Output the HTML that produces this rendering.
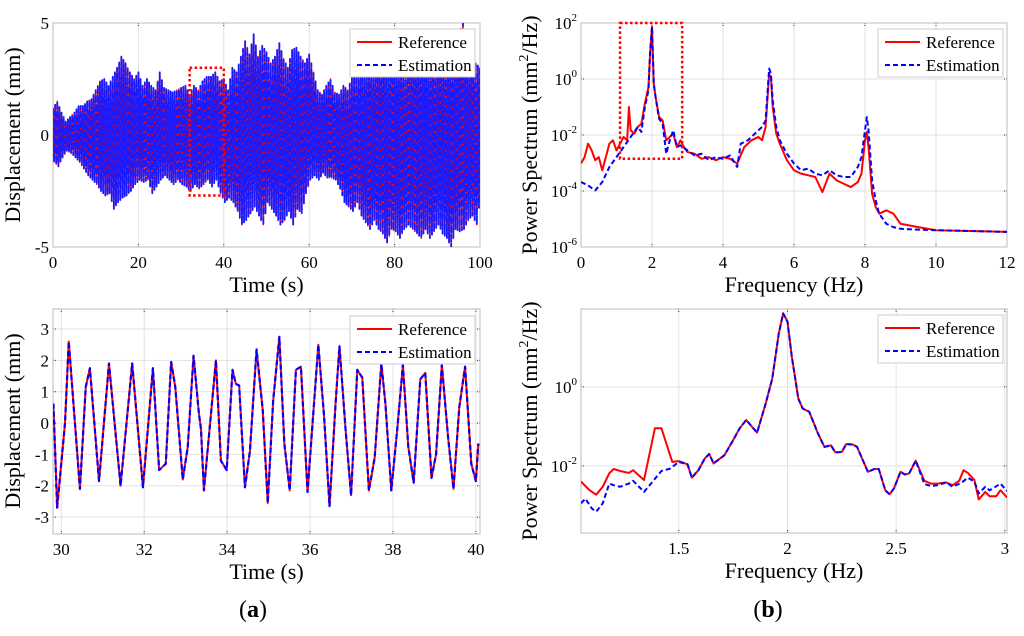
<!DOCTYPE html>
<html><head><meta charset="utf-8"><style>
html,body{margin:0;padding:0;background:#fff;}
svg{display:block;font-family:"Liberation Serif",serif;}
</style></head><body>
<svg id="fig" width="1024" height="636" viewBox="0 0 1024 636" xmlns="http://www.w3.org/2000/svg"></svg>
<script>
// ---------- Panel A data (top-left): per-second upper/lower envelope of displacement ----------
const aUpper=[1.2,1.5,1.0,0.6,0.8,1.0,1.3,1.3,1.5,1.6,2.0,2.4,2.5,2.2,2.6,3.0,3.5,3.2,2.8,2.5,2.8,2.2,2.5,2.2,2.0,2.8,2.1,2.0,1.9,2.0,2.1,2.2,1.8,2.2,2.0,2.4,2.6,2.6,2.8,2.4,2.5,2.0,3.0,2.8,3.5,4.2,3.6,4.5,3.5,4.0,3.7,3.2,3.5,4.1,3.4,3.0,3.8,3.9,3.5,3.2,3.6,2.8,2.0,1.8,2.2,2.5,1.9,1.8,2.2,2.0,2.6,2.6,3.0,3.0,3.2,3.0,3.2,3.6,3.0,3.5,3.3,3.4,3.0,3.2,3.3,3.5,3.4,3.6,3.3,3.2,3.5,3.4,3.5,3.8,3.4,4.5,5.0,3.3,3.5,3.2,3.0,4.2];
const aLower=[-1.2,-1.4,-1.0,-0.7,-0.8,-1.0,-1.2,-1.5,-1.8,-2.0,-2.2,-2.5,-2.7,-2.6,-3.3,-3.0,-2.8,-2.7,-2.5,-2.2,-2.0,-2.1,-2.0,-2.6,-2.3,-2.0,-1.8,-2.0,-2.2,-2.0,-2.2,-2.3,-2.5,-2.2,-2.4,-2.2,-2.0,-2.3,-2.0,-2.6,-3.0,-2.8,-3.0,-3.4,-4.0,-3.8,-3.5,-3.2,-3.6,-4.0,-3.0,-3.3,-3.6,-4.0,-3.8,-3.4,-4.0,-3.3,-3.5,-2.6,-2.0,-1.8,-2.0,-1.7,-1.9,-1.9,-2.0,-2.4,-3.0,-3.2,-3.4,-3.0,-3.6,-3.9,-4.2,-3.8,-4.2,-4.4,-4.8,-4.2,-4.3,-4.6,-4.2,-4.0,-4.2,-4.4,-4.6,-4.2,-4.6,-4.3,-4.0,-4.4,-4.6,-5.0,-4.2,-4.3,-4.2,-3.8,-3.6,-4.0,-2.5];
const aXTicks=[0,20,40,60,80,100];
const aYTicks=[-5,0,5];
// ---------- Panel C data (bottom-left): zoomed time series ----------
const cTime=[29.81,29.90,30.09,30.18,30.45,30.59,30.69,30.91,31.15,31.43,31.71,31.97,32.21,32.36,32.52,32.65,32.75,32.93,33.05,33.19,33.32,33.37,33.44,33.73,33.85,33.99,34.13,34.21,34.29,34.43,34.55,34.71,34.86,34.98,35.11,35.26,35.38,35.51,35.66,35.78,35.94,36.20,36.34,36.47,36.62,36.71,36.86,36.99,37.14,37.26,37.42,37.56,37.72,37.82,37.96,38.10,38.24,38.37,38.50,38.66,38.78,38.93,39.04,39.18,39.33,39.46,39.60,39.74,39.89,40.00,40.06];
const cDisp=[0.62,-2.7,0,2.6,-2.1,1.15,1.75,-1.85,1.9,-2.0,1.9,-2.05,1.75,-1.5,-1.3,1.95,1.15,-1.8,-0.77,2.15,0.3,-0.2,-2.15,2.0,-1.2,-1.5,1.7,1.25,1.2,-2.05,-0.9,2.35,0.4,-2.55,0.7,2.75,-0.65,-2.15,1.7,1.8,-2.2,2.5,0.2,-2.65,0.7,2.45,-0.25,-2.3,1.7,1.45,-2.15,-1.1,1.9,0.6,-2.15,-0.25,1.85,-0.75,-1.9,1.4,1.6,-1.75,-1.0,1.85,-0.45,-2.1,0.5,1.8,-1.3,-1.85,-0.65];
const cXTicks=[30,32,34,36,38,40];
const cYTicks=[-3,-2,-1,0,1,2,3];
// ---------- Panel B data (top-right): PSD, log10 values ----------
const bRefFreq=[0,0.1,0.2,0.3,0.4,0.5,0.6,0.7,0.8,0.9,1.0,1.1,1.2,1.3,1.35,1.4,1.5,1.6,1.7,1.8,1.9,1.95,2.0,2.05,2.1,2.2,2.3,2.4,2.5,2.6,2.7,2.8,2.9,3.0,3.2,3.4,3.6,3.8,4.0,4.2,4.4,4.6,4.8,5.0,5.1,5.2,5.3,5.35,5.4,5.5,5.6,5.8,6.0,6.2,6.4,6.6,6.8,7.0,7.2,7.4,7.6,7.8,7.9,8.0,8.05,8.1,8.2,8.3,8.4,8.6,8.8,9.0,9.5,10,11,12];
const bRefLog=[-3.02,-2.79,-2.31,-2.55,-2.90,-2.79,-3.26,-2.79,-2.31,-2.19,-2.55,-2.31,-2.07,-2.19,-1.0,-1.83,-1.95,-1.71,-1.6,-0.88,-0.29,1.02,1.86,-0.17,-0.64,-1.36,-1.48,-2.19,-2.07,-1.95,-2.43,-2.19,-2.43,-2.61,-2.67,-2.85,-2.79,-2.90,-2.79,-2.85,-3.02,-2.43,-2.19,-2.07,-2.19,-1.71,0.19,0.07,-1.0,-1.95,-2.31,-2.90,-3.26,-3.38,-3.44,-3.50,-4.04,-3.38,-3.62,-3.74,-3.86,-3.68,-3.38,-2.19,-1.89,-2.43,-4.10,-4.57,-4.81,-4.69,-4.81,-5.17,-5.29,-5.40,-5.43,-5.46];
const bEstFreq=[0,0.2,0.4,0.6,0.8,1.0,1.2,1.4,1.6,1.7,1.8,1.9,1.95,2.0,2.05,2.1,2.2,2.3,2.4,2.5,2.6,2.7,2.8,3.0,3.2,3.4,3.6,3.8,4.0,4.2,4.4,4.5,4.7,4.9,5.1,5.2,5.3,5.35,5.4,5.5,5.6,5.8,6.0,6.2,6.4,6.6,6.8,7.0,7.2,7.4,7.6,7.8,7.9,8.0,8.05,8.1,8.2,8.3,8.4,8.6,8.8,9.0,9.5,10,11,12];
const bEstLog=[-3.68,-3.80,-3.98,-3.68,-3.14,-2.79,-2.43,-2.07,-1.71,-1.89,-1.0,-0.40,1.02,1.86,-0.17,-0.64,-1.42,-1.6,-2.67,-2.19,-1.83,-2.43,-2.37,-2.55,-2.73,-2.67,-2.90,-2.79,-2.85,-2.73,-3.14,-2.31,-2.19,-1.95,-1.71,-1.48,0.37,0.19,-0.76,-1.71,-2.19,-2.67,-3.02,-3.26,-3.20,-3.38,-3.44,-3.26,-3.44,-3.50,-3.50,-3.14,-2.79,-1.83,-1.36,-1.83,-3.62,-4.33,-4.81,-5.17,-5.29,-5.35,-5.38,-5.40,-5.43,-5.46];
const bXTicks=[0,2,4,6,8,10,12];
const bYTicks=[-6,-4,-2,0,2];
// ---------- Panel D data (bottom-right): zoomed PSD, log10 values ----------
const dRefFreq=[1.05,1.09,1.12,1.15,1.18,1.20,1.23,1.27,1.29,1.34,1.39,1.42,1.47,1.50,1.54,1.56,1.59,1.62,1.64,1.66,1.71,1.75,1.78,1.81,1.86,1.90,1.93,1.96,1.98,2.00,2.02,2.05,2.07,2.10,2.14,2.17,2.20,2.22,2.25,2.27,2.30,2.32,2.37,2.40,2.42,2.45,2.47,2.49,2.52,2.54,2.56,2.59,2.63,2.66,2.69,2.73,2.76,2.79,2.81,2.83,2.86,2.88,2.91,2.93,2.96,2.98,3.01];
const dRefLog=[-2.40,-2.62,-2.73,-2.53,-2.19,-2.08,-2.13,-2.18,-2.11,-2.36,-1.05,-1.05,-1.90,-1.88,-1.96,-2.30,-2.11,-1.81,-1.70,-1.94,-1.73,-1.35,-1.05,-0.84,-1.16,-0.42,0.21,1.35,1.86,1.65,0.76,-0.30,-0.55,-0.63,-1.18,-1.52,-1.48,-1.66,-1.65,-1.45,-1.46,-1.52,-2.15,-2.08,-2.08,-2.62,-2.72,-2.57,-2.15,-2.22,-2.19,-1.87,-2.38,-2.45,-2.45,-2.42,-2.49,-2.38,-2.11,-2.18,-2.36,-2.85,-2.66,-2.77,-2.77,-2.62,-2.80];
const dEstFreq=[1.05,1.07,1.10,1.12,1.15,1.18,1.20,1.23,1.27,1.29,1.34,1.42,1.46,1.50,1.54,1.56,1.59,1.62,1.64,1.66,1.71,1.75,1.78,1.81,1.86,1.90,1.93,1.96,1.98,2.00,2.02,2.05,2.07,2.10,2.14,2.17,2.20,2.22,2.25,2.27,2.30,2.32,2.37,2.40,2.42,2.45,2.47,2.49,2.52,2.54,2.56,2.59,2.63,2.66,2.69,2.73,2.76,2.80,2.83,2.86,2.88,2.91,2.93,2.98,3.01];
const dEstLog=[-2.95,-2.83,-3.08,-3.16,-2.95,-2.45,-2.49,-2.53,-2.45,-2.38,-2.66,-2.13,-2.07,-1.90,-1.96,-2.30,-2.11,-1.81,-1.70,-1.94,-1.73,-1.35,-1.05,-0.84,-1.16,-0.42,0.21,1.35,1.86,1.65,0.76,-0.30,-0.55,-0.63,-1.18,-1.52,-1.48,-1.66,-1.65,-1.45,-1.46,-1.52,-2.15,-2.08,-2.08,-2.62,-2.72,-2.57,-2.15,-2.22,-2.19,-1.87,-2.46,-2.51,-2.49,-2.42,-2.53,-2.43,-2.30,-2.40,-2.70,-2.53,-2.62,-2.45,-2.64];
const dXTicks=[1.5,2,2.5,3];
const dYTicks=[-2,0];

const NS="http://www.w3.org/2000/svg";
const svg=document.getElementById('fig');
function mk(tag,attrs,parent){const e=document.createElementNS(NS,tag);for(const k in attrs)e.setAttribute(k,attrs[k]);(parent||svg).appendChild(e);return e;}
function scale(d0,d1,r0,r1){return v=>r0+(v-d0)*(r1-r0)/(d1-d0);}

function panel(name,box,xd,yd,xticks,yticks,xlab,ylab,logY,ylx,yly){
  const g=mk('g',{});
  
  
  const sx=scale(xd[0],xd[1],box.x0,box.x1), sy=scale(yd[0],yd[1],box.y1,box.y0);
  const clipId=name+'-clip';
  const cp=mk('clipPath',{id:clipId},g);mk('rect',{x:box.x0,y:box.y0,width:box.x1-box.x0,height:box.y1-box.y0},cp);
  mk('rect',{x:box.x0,y:box.y0,width:box.x1-box.x0,height:box.y1-box.y0,fill:'#fff'},g);
  xticks.forEach(t=>{const x=sx(t);
    const l=mk('line',{x1:x,x2:x,y1:box.y0,y2:box.y1,stroke:'#e2e2e2','stroke-width':1},g);
    
    mk('line',{x1:x,x2:x,y1:box.y0,y2:box.y0+4,stroke:'#333','stroke-dasharray':'1,1'},g);
    mk('line',{x1:x,x2:x,y1:box.y1,y2:box.y1-4,stroke:'#333','stroke-dasharray':'1,1'},g);
    const tx=mk('text',{x:x,y:box.y1+21,'font-size':17,'text-anchor':'middle',fill:'#000'},g);tx.textContent=t;
    
    
  });
  yticks.forEach(t=>{const y=sy(t);
    const l=mk('line',{x1:box.x0,x2:box.x1,y1:y,y2:y,stroke:'#e2e2e2','stroke-width':1},g);
    
    mk('line',{x1:box.x0,x2:box.x0+4,y1:y,y2:y,stroke:'#333','stroke-dasharray':'1,1'},g);
    mk('line',{x1:box.x1,x2:box.x1-4,y1:y,y2:y,stroke:'#333','stroke-dasharray':'1,1'},g);
    const tx=mk('text',{x:box.x0-4,y:y+6,'font-size':17,'text-anchor':'end',fill:'#000'},g);
    
    
    if(logY){tx.textContent='10';const s=mk('tspan',{dy:-8,'font-size':11},tx);s.textContent=t;}
    else tx.textContent=t;
  });
  mk('rect',{x:box.x0,y:box.y0,width:box.x1-box.x0,height:box.y1-box.y0,fill:'none',stroke:'#c8c8c8','stroke-width':1.2},g);
  const xl=mk('text',{x:(box.x0+box.x1)/2,y:box.y1+45,'font-size':22,'text-anchor':'middle'},g);xl.textContent=xlab;
  
  
  const yl=mk('text',{x:ylx,y:yly,'font-size':22,'text-anchor':'middle',transform:`rotate(-90 ${ylx} ${yly})`},g);
  
  
  if(ylab==='psd'){yl.appendChild(document.createTextNode('Power Spectrum (mm'));const s=mk('tspan',{dy:-9,'font-size':14},yl);s.textContent='2';const s2=mk('tspan',{dy:9},yl);s2.textContent='/Hz)';}
  else yl.textContent=ylab;
  const plot=mk('g',{'clip-path':`url(#${clipId})`},g);
  return {g,plot,sx,sy,box};
}
function series(P,xs,ys,color,dash,name,w){
  const d=xs.map((x,i)=>(i?'L':'M')+P.sx(x).toFixed(2)+','+P.sy(ys[i]).toFixed(2)).join('');
  const p=mk('path',{d:d,fill:'none',stroke:color,'stroke-width':w||2,'stroke-linejoin':'round'},P.plot);
  if(dash)p.setAttribute('stroke-dasharray',dash);
  
  
}
function legend(P,x,y){
  const g=mk('g',{},P.g);
  
  
  mk('rect',{x:x,y:y,width:125,height:48,fill:'#fff',stroke:'#ccc'},g);
  mk('line',{x1:x+7,x2:x+42,y1:y+13,y2:y+13,stroke:'#f00','stroke-width':2},g);
  mk('line',{x1:x+7,x2:x+42,y1:y+36,y2:y+36,stroke:'#00f','stroke-width':2,'stroke-dasharray':'5,3'},g);
  const t1=mk('text',{x:x+48,y:y+19,'font-size':17},g);t1.textContent='Reference';
  
  
  const t2=mk('text',{x:x+48,y:y+42,'font-size':17},g);t2.textContent='Estimation';
  
  
}
function zoomBox(P,x0,x1,y0,y1,name){
  const r=mk('rect',{x:P.sx(x0),y:P.sy(y1),width:P.sx(x1)-P.sx(x0),height:P.sy(y0)-P.sy(y1),fill:'none',stroke:'#f00','stroke-width':2.5,'stroke-dasharray':'2.5,2.5'},P.g);
  
  
}

// Panel A — dense oscillation: four half-cycles per second between envelope values
const A=panel('panel-a-time-history',{x0:53,x1:480,y0:23,y1:247},[0,100],[-5,5],aXTicks,aYTicks,'Time (s)','Displacement (mm)',false,20,135);
const aT=[],aV=[];
for(let i=0;i<aUpper.length-1;i++){
  const u0=aUpper[i],u1=aUpper[i+1],l0=aLower[i],l1=aLower[i+1];
  aT.push(i);aV.push(u0);
  aT.push(i+0.25);aV.push(l0);
  aT.push(i+0.5);aV.push((u0+u1)/2);
  aT.push(i+0.75);aV.push((l0+l1)/2);
}
series(A,aT,aV,'#f00',null,'reference-line',1.6);
series(A,aT,aV,'#1a1aff','7,2','estimation-line',1.8);
zoomBox(A,32,40,-2.7,3.0,'zoom-region-box');
legend(A,350,29);

// Panel B
const B=panel('panel-b-spectrum',{x0:581,x1:1007,y0:23,y1:247},[0,12],[-6,2],bXTicks,bYTicks,'Frequency (Hz)','psd',true,537,135);
series(B,bRefFreq,bRefLog,'#f00',null,'reference-psd-line',2);
series(B,bEstFreq,bEstLog,'#00f','5,3','estimation-psd-line',2);
zoomBox(B,1.1,2.85,-2.85,2,'zoom-region-box');
legend(B,878,29);

// Panel C
const C=panel('panel-c-time-zoom',{x0:53,x1:480,y0:309,y1:534},[29.8,40.1],[-3.54,3.64],cXTicks,cYTicks,'Time (s)','Displacement (mm)',false,20,421);
series(C,cTime,cDisp,'#f00',null,'reference-line',2);
series(C,cTime,cDisp,'#00f','5,3','estimation-line',2.2);
legend(C,350,316);

// Panel D
const D=panel('panel-d-spectrum-zoom',{x0:581,x1:1007,y0:309,y1:533},[1.05,3.01],[-3.7,1.97],dXTicks,dYTicks,'Frequency (Hz)','psd',true,537,421);
series(D,dRefFreq,dRefLog,'#f00',null,'reference-psd-line',2);
series(D,dEstFreq,dEstLog,'#00f','5,3','estimation-psd-line',2);
legend(D,878,315);

const la=mk('text',{x:253,y:617,'font-size':24,'text-anchor':'middle'});la.innerHTML='(<tspan font-weight="bold">a</tspan>)';


const lb=mk('text',{x:768,y:617,'font-size':24,'text-anchor':'middle'});lb.innerHTML='(<tspan font-weight="bold">b</tspan>)';


</script>
</body></html>
